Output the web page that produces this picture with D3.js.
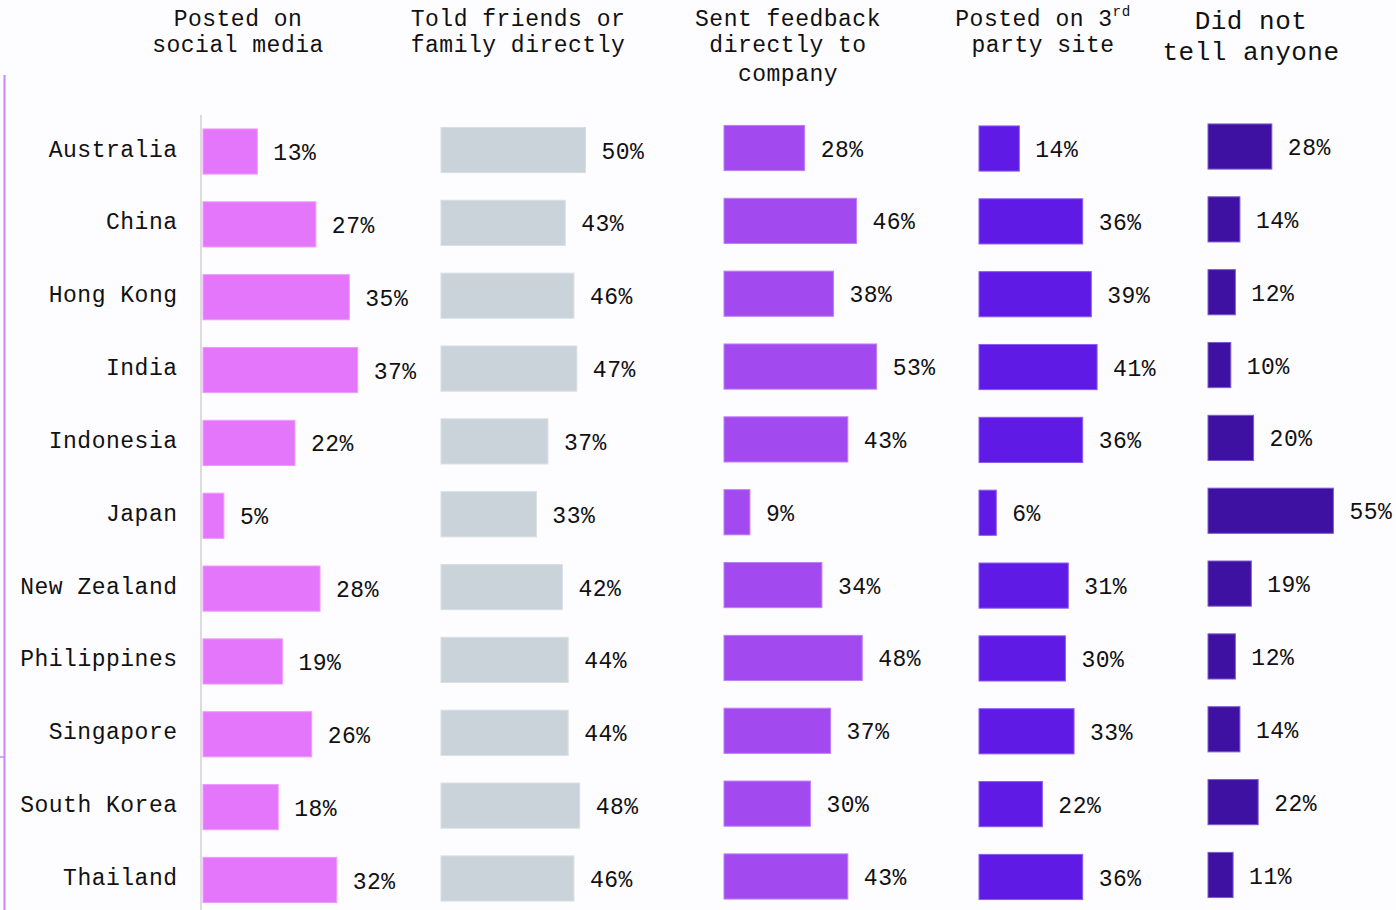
<!DOCTYPE html>
<html>
<head>
<meta charset="utf-8">
<script src="https://cdn.jsdelivr.net/npm/d3@7"></script>
<style>
  html, body { margin: 0; padding: 0; background: #fdfcff; }
  svg { display: block; }
  text { font-family: "Liberation Mono", "DejaVu Sans Mono", monospace; fill: #111; letter-spacing: 0.5px; }
</style>
</head>
<body>
<svg id="chart" width="1396" height="910"></svg>
<script>
// Countries (rows) and the five response series (columns), values in percent
const countries = ["Australia", "China", "Hong Kong", "India", "Indonesia", "Japan",
  "New Zealand", "Philippines", "Singapore", "South Korea", "Thailand"];
const postedSocial   = [13, 27, 35, 37, 22, 5, 28, 19, 26, 18, 32];
const toldFriends    = [50, 43, 46, 47, 37, 33, 42, 44, 44, 48, 46];
const sentFeedback   = [28, 46, 38, 53, 43, 9, 34, 48, 37, 30, 43];
const postedThird    = [14, 36, 39, 41, 36, 6, 31, 30, 33, 22, 36];
const didNotTell     = [28, 14, 12, 10, 20, 55, 19, 12, 14, 22, 11];

const seriesValues = [postedSocial, toldFriends, sentFeedback, postedThird, didNotTell];

// Layout of each panel: left edge, pixel width for 100%, vertical nudge, colours, header
const panels = [
  { x0: 203,  full: 418, dy: 0,    fill: "#e376fa", stroke: "#ee9cfc",
    header: [["Posted on"], ["social media"]], hx: 238, hBase: [26, 52], hSize: 23 },
  { x0: 441,  full: 289, dy: -1.5, fill: "#c9d3d9", stroke: "#d8e0e4",
    header: [["Told friends or"], ["family directly"]], hx: 518, hBase: [26, 52], hSize: 23 },
  { x0: 724,  full: 288, dy: -3.5, fill: "#a24af0", stroke: "#bd80f5",
    header: [["Sent feedback"], ["directly to"], ["company"]], hx: 788, hBase: [26, 52, 81], hSize: 23 },
  { x0: 979,  full: 288, dy: -3,   fill: "#5f1ae6", stroke: "#8a5cee",
    header: [["Posted on 3", "rd"], ["party site"]], hx: 1043, hBase: [26, 52], hSize: 23 },
  { x0: 1208, full: 228, dy: -5,   fill: "#3f11a3", stroke: "#7b5ccc",
    header: [["Did not"], ["tell anyone"]], hx: 1251, hBase: [29, 60], hSize: 26 }
];

const svg = d3.select("#chart");

// Shared row scale
const y = d3.scaleBand()
  .domain(countries)
  .range([115.1, 916.4])
  .paddingInner(0.38)
  .paddingOuter(0.19);

// Left frame line with its small notch
svg.append("line").attr("x1", 4.5).attr("x2", 4.5).attr("y1", 75).attr("y2", 910)
  .attr("stroke", "#c48af7").attr("stroke-width", 2);
svg.append("line").attr("x1", 0).attr("x2", 5).attr("y1", 757).attr("y2", 757)
  .attr("stroke", "#c48af7").attr("stroke-width", 1.5);

// Baseline of the first panel
svg.append("line").attr("x1", 201).attr("x2", 201).attr("y1", 115).attr("y2", 910)
  .attr("stroke", "#dcdcdc").attr("stroke-width", 2);

// Country labels
svg.append("g").selectAll("text")
  .data(countries)
  .join("text")
  .attr("x", 177.5)
  .attr("y", d => y(d) + y.bandwidth() / 2 - 3)
  .attr("dy", "0.35em")
  .attr("text-anchor", "end")
  .attr("font-size", 23)
  .text(d => d);

panels.forEach((p, i) => {
  const values = seriesValues[i];
  const x = d3.scaleLinear().domain([0, 100]).range([p.x0, p.x0 + p.full]);
  const rows = countries.map((c, k) => ({ country: c, value: values[k] }));
  const g = svg.append("g").attr("transform", `translate(0,${p.dy})`);

  g.selectAll("rect")
    .data(rows)
    .join("rect")
    .attr("x", x(0))
    .attr("y", d => y(d.country))
    .attr("width", d => x(d.value) - x(0))
    .attr("height", y.bandwidth())
    .attr("fill", p.fill)
    .attr("stroke", p.stroke)
    .attr("stroke-width", 1);

  g.selectAll("text.val")
    .data(rows)
    .join("text")
    .attr("class", "val")
    .attr("x", d => x(d.value) + 16)
    .attr("y", d => y(d.country) + y.bandwidth() / 2 + 0.5)
    .attr("dy", "0.35em")
    .attr("font-size", 23)
    .text(d => d.value + "%");

  // Column header
  const h = svg.append("text")
    .attr("text-anchor", "middle")
    .attr("font-size", p.hSize);
  p.header.forEach((line, li) => {
    h.append("tspan").attr("x", p.hx).attr("y", p.hBase[li]).text(line[0]);
    if (line[1]) {
      h.append("tspan")
        .attr("font-size", p.hSize * 0.62)
        .attr("dy", -10)
        .text(line[1]);
    }
  });
});
</script>
</body>
</html>
